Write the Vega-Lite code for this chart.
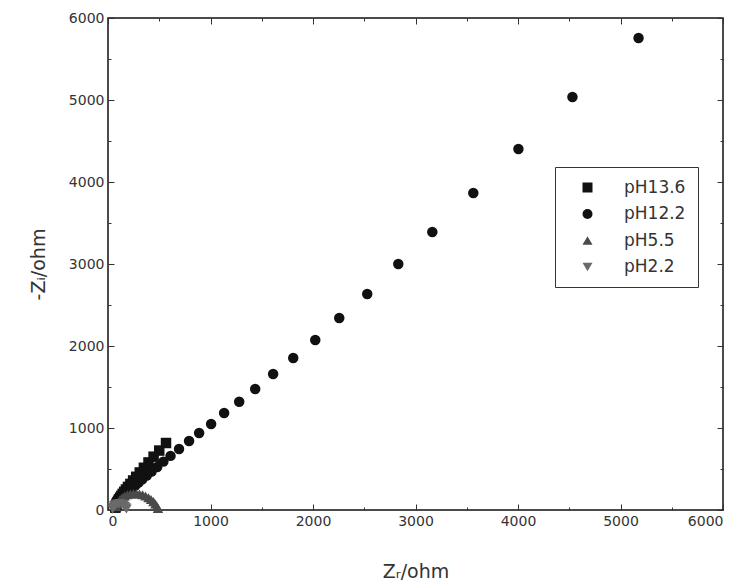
{
  "$schema": "https://vega.github.io/schema/vega-lite/v6.json",
  "width": 615,
  "height": 492,
  "autosize": {"type": "none"},
  "padding": {"left": 108, "top": 18, "right": 23, "bottom": 78},
  "background": "white",
  "config": {
    "view": {"stroke": "#111", "strokeWidth": 1.5},
    "font": "DejaVu Sans",
    "axis": {"domain": false, "grid": false, "labelFont": "DejaVu Sans", "labelFontSize": 14, "labelColor": "#333", "titleFont": "DejaVu Sans", "titleFontSize": 19, "titleFontWeight": "normal", "titleColor": "#333", "tickColor": "#333", "tickWidth": 1}
  },
  "data": {
    "values": [
      {"s": "pH13.6", "zr": 566, "zi": 817},
      {"s": "pH13.6", "zr": 500, "zi": 725},
      {"s": "pH13.6", "zr": 445, "zi": 650},
      {"s": "pH13.6", "zr": 395, "zi": 580},
      {"s": "pH13.6", "zr": 350, "zi": 515},
      {"s": "pH13.6", "zr": 310, "zi": 458},
      {"s": "pH13.6", "zr": 275, "zi": 405},
      {"s": "pH13.6", "zr": 245, "zi": 360},
      {"s": "pH13.6", "zr": 218, "zi": 318},
      {"s": "pH13.6", "zr": 195, "zi": 282},
      {"s": "pH13.6", "zr": 175, "zi": 250},
      {"s": "pH13.6", "zr": 158, "zi": 222},
      {"s": "pH13.6", "zr": 143, "zi": 196},
      {"s": "pH13.6", "zr": 130, "zi": 172},
      {"s": "pH13.6", "zr": 118, "zi": 150},
      {"s": "pH13.6", "zr": 108, "zi": 130},
      {"s": "pH13.6", "zr": 99, "zi": 112},
      {"s": "pH13.6", "zr": 92, "zi": 95},
      {"s": "pH13.6", "zr": 86, "zi": 80},
      {"s": "pH13.6", "zr": 81, "zi": 66},
      {"s": "pH13.6", "zr": 77, "zi": 52},
      {"s": "pH13.6", "zr": 74, "zi": 40},
      {"s": "pH13.6", "zr": 72, "zi": 28},
      {"s": "pH12.2", "zr": 5176, "zi": 5756},
      {"s": "pH12.2", "zr": 4531, "zi": 5037},
      {"s": "pH12.2", "zr": 4004, "zi": 4402},
      {"s": "pH12.2", "zr": 3564, "zi": 3866},
      {"s": "pH12.2", "zr": 3164, "zi": 3390},
      {"s": "pH12.2", "zr": 2832, "zi": 3000},
      {"s": "pH12.2", "zr": 2529, "zi": 2634},
      {"s": "pH12.2", "zr": 2256, "zi": 2341},
      {"s": "pH12.2", "zr": 2022, "zi": 2073},
      {"s": "pH12.2", "zr": 1807, "zi": 1854},
      {"s": "pH12.2", "zr": 1611, "zi": 1659},
      {"s": "pH12.2", "zr": 1436, "zi": 1476},
      {"s": "pH12.2", "zr": 1280, "zi": 1320},
      {"s": "pH12.2", "zr": 1133, "zi": 1183},
      {"s": "pH12.2", "zr": 1006, "zi": 1049},
      {"s": "pH12.2", "zr": 889, "zi": 939},
      {"s": "pH12.2", "zr": 791, "zi": 841},
      {"s": "pH12.2", "zr": 693, "zi": 744},
      {"s": "pH12.2", "zr": 610, "zi": 660},
      {"s": "pH12.2", "zr": 540, "zi": 590},
      {"s": "pH12.2", "zr": 480, "zi": 525},
      {"s": "pH12.2", "zr": 425, "zi": 470},
      {"s": "pH12.2", "zr": 378, "zi": 420},
      {"s": "pH12.2", "zr": 335, "zi": 375},
      {"s": "pH12.2", "zr": 298, "zi": 335},
      {"s": "pH12.2", "zr": 265, "zi": 298},
      {"s": "pH12.2", "zr": 236, "zi": 265},
      {"s": "pH12.2", "zr": 210, "zi": 235},
      {"s": "pH12.2", "zr": 188, "zi": 208},
      {"s": "pH12.2", "zr": 168, "zi": 184},
      {"s": "pH12.2", "zr": 150, "zi": 162},
      {"s": "pH12.2", "zr": 135, "zi": 142},
      {"s": "pH12.2", "zr": 122, "zi": 124},
      {"s": "pH12.2", "zr": 110, "zi": 108},
      {"s": "pH12.2", "zr": 100, "zi": 92},
      {"s": "pH12.2", "zr": 92, "zi": 78},
      {"s": "pH12.2", "zr": 85, "zi": 65},
      {"s": "pH12.2", "zr": 80, "zi": 52},
      {"s": "pH12.2", "zr": 76, "zi": 40},
      {"s": "pH5.5", "zr": 80, "zi": 40},
      {"s": "pH5.5", "zr": 90, "zi": 70},
      {"s": "pH5.5", "zr": 102, "zi": 100},
      {"s": "pH5.5", "zr": 118, "zi": 127},
      {"s": "pH5.5", "zr": 138, "zi": 150},
      {"s": "pH5.5", "zr": 162, "zi": 170},
      {"s": "pH5.5", "zr": 188, "zi": 185},
      {"s": "pH5.5", "zr": 217, "zi": 195},
      {"s": "pH5.5", "zr": 247, "zi": 200},
      {"s": "pH5.5", "zr": 277, "zi": 200},
      {"s": "pH5.5", "zr": 307, "zi": 195},
      {"s": "pH5.5", "zr": 337, "zi": 185},
      {"s": "pH5.5", "zr": 366, "zi": 170},
      {"s": "pH5.5", "zr": 395, "zi": 150},
      {"s": "pH5.5", "zr": 420, "zi": 128},
      {"s": "pH5.5", "zr": 443, "zi": 102},
      {"s": "pH5.5", "zr": 462, "zi": 74},
      {"s": "pH5.5", "zr": 477, "zi": 46},
      {"s": "pH5.5", "zr": 488, "zi": 20},
      {"s": "pH2.2", "zr": 45, "zi": 10},
      {"s": "pH2.2", "zr": 50, "zi": 30},
      {"s": "pH2.2", "zr": 60, "zi": 50},
      {"s": "pH2.2", "zr": 74, "zi": 64},
      {"s": "pH2.2", "zr": 92, "zi": 74},
      {"s": "pH2.2", "zr": 112, "zi": 78},
      {"s": "pH2.2", "zr": 132, "zi": 74},
      {"s": "pH2.2", "zr": 150, "zi": 62},
      {"s": "pH2.2", "zr": 164, "zi": 46},
      {"s": "pH2.2", "zr": 174, "zi": 28},
      {"s": "pH2.2", "zr": 180, "zi": 12}
    ]
  },
  "resolve": {"axis": {"x": "independent", "y": "independent"}},
  "layer": [
    {
      "mark": {"type": "point", "filled": true, "opacity": 1, "size": 110},
      "encoding": {
        "x": {"field": "zr", "type": "quantitative", "scale": {"domain": [0, 6000], "nice": false},
          "axis": {"orient": "bottom", "title": "Zᵣ/ohm", "titlePadding": 34,
            "values": [0, 500, 1000, 1500, 2000, 2500, 3000, 3500, 4000, 4500, 5000, 5500, 6000],
            "labelExpr": "datum.value % 1000 == 0 ? format(datum.value, 'd') : ''",
            "tickSize": {"condition": {"test": "datum.value % 1000 == 0", "value": -6}, "value": -3},
            "labelPadding": 10}},
        "y": {"field": "zi", "type": "quantitative", "scale": {"domain": [0, 6000], "nice": false},
          "axis": {"orient": "left", "title": "-Zᵢ/ohm", "titlePadding": 20,
            "values": [0, 500, 1000, 1500, 2000, 2500, 3000, 3500, 4000, 4500, 5000, 5500, 6000],
            "labelExpr": "datum.value % 1000 == 0 ? format(datum.value, 'd') : ''",
            "tickSize": {"condition": {"test": "datum.value % 1000 == 0", "value": -6}, "value": -3},
            "labelPadding": 10}},
        "shape": {"field": "s", "type": "nominal",
          "scale": {"domain": ["pH13.6", "pH12.2", "pH5.5", "pH2.2"], "range": ["square", "circle", "triangle-up", "triangle-down"]},
          "legend": {"title": null, "orient": "none", "legendX": 447, "legendY": 149,
            "strokeColor": "#333", "padding": 12, "labelFontSize": 17, "labelColor": "#333", "labelFont": "DejaVu Sans",
            "symbolSize": 100, "labelOffset": 28, "rowPadding": 8.5, "symbolOffset": 12, "fillColor": "white",
            "encode": {"legend": {"update": {"strokeDash": {"value": [2, 2]}, "strokeWidth": {"value": 1.5}}}}}},
        "color": {"field": "s", "type": "nominal",
          "scale": {"domain": ["pH13.6", "pH12.2", "pH5.5", "pH2.2"], "range": ["#111111", "#111111", "#4a4a4a", "#6a6a6a"]}}
      }
    },
    {
      "mark": {"type": "point", "opacity": 0},
      "encoding": {
        "x": {"field": "zr", "type": "quantitative",
          "axis": {"orient": "top", "title": null, "labels": false,
            "values": [0, 500, 1000, 1500, 2000, 2500, 3000, 3500, 4000, 4500, 5000, 5500, 6000],
            "tickSize": {"condition": {"test": "datum.value % 1000 == 0", "value": -6}, "value": -3}}},
        "y": {"field": "zi", "type": "quantitative",
          "axis": {"orient": "right", "title": null, "labels": false,
            "values": [0, 500, 1000, 1500, 2000, 2500, 3000, 3500, 4000, 4500, 5000, 5500, 6000],
            "tickSize": {"condition": {"test": "datum.value % 1000 == 0", "value": -6}, "value": -3}}}
      }
    }
  ]
}
